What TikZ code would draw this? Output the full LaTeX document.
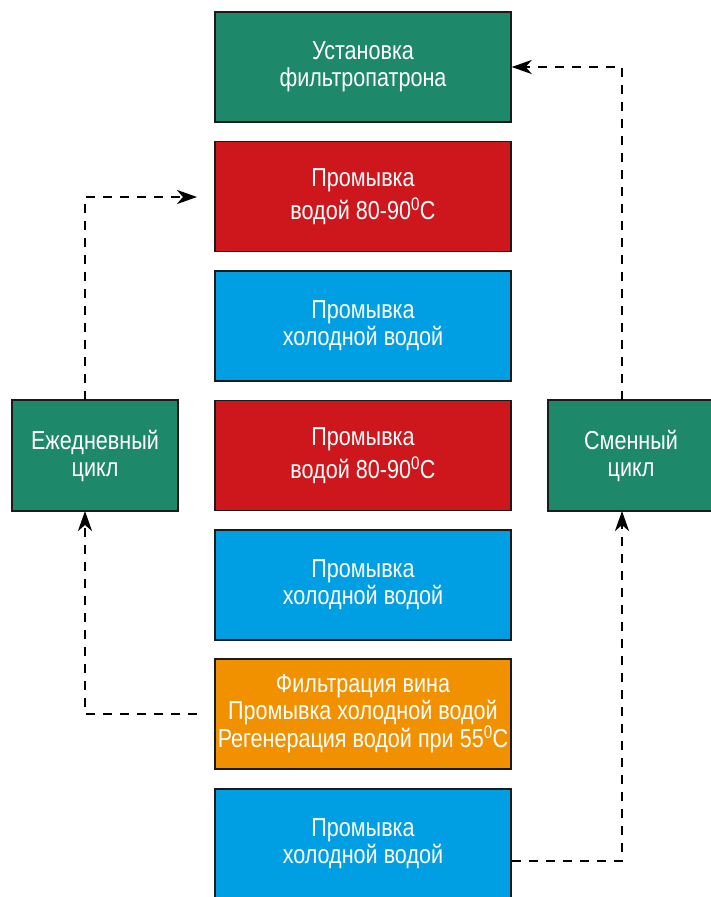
\documentclass[tikz,border=0pt]{standalone}
\usepackage{fontspec}
\setmainfont{Liberation Sans}[FakeStretch=0.83]
\usetikzlibrary{arrows.meta}
\definecolor{cgreen}{HTML}{1E886A}
\definecolor{cred}{HTML}{CE171D}
\definecolor{cblue}{HTML}{009FE3}
\definecolor{corange}{HTML}{F29100}
\definecolor{cedge}{HTML}{1A1A1A}
\tikzset{
  box/.style={draw=cedge, line width=1.4pt, minimum width=296pt, minimum height=110pt,
    inner sep=0pt, text=white, align=center, font=\fontsize{26}{27}\selectfont},
  sidebox/.style={box, minimum width=166pt, minimum height=111pt},
  conn/.style={line width=2.8pt, dash pattern=on 9pt off 8pt},
  tip/.style={-{Stealth[length=20pt,width=14pt,inset=6pt]}}
}
\begin{document}
\begin{tikzpicture}[x=1pt,y=-1pt]
\useasboundingbox (0,0) rectangle (711,897);
\node[box, fill=cgreen] (b1) at (363,67) {Установка\\фильтропатрона};
\node[box, fill=cred] (b2) at (363,196.5) {Промывка\\[5pt]водой 80-90\textsuperscript{0}C};
\node[box, fill=cblue] (b3) at (363,326) {Промывка\\холодной водой};
\node[box, fill=cred] (b4) at (363,455.5) {Промывка\\[5pt]водой 80-90\textsuperscript{0}C};
\node[box, fill=cblue] (b5) at (363,585) {Промывка\\холодной водой};
\node[box, fill=corange] (b6) at (363,714) {Фильтрация вина\\Промывка холодной водой\\Регенерация водой при 55\textsuperscript{0}C};
\node[box, fill=cblue] (b7) at (363,844) {Промывка\\холодной водой};
\node[sidebox, fill=cgreen] (left) at (95,455.5) {Ежедневный\\цикл};
\node[sidebox, fill=cgreen] (right) at (631,455.5) {Сменный\\цикл};
\coordinate (lfrom) at (197,714);
\coordinate (lto) at (197,197);
\draw[conn, tip] (lfrom) -- (85,714) -- (85,511);
\draw[conn, tip] (85,400) -- (85,197) -- (lto);
\draw[conn, tip] (b7.east |- 0,861) -- (622,861) -- (622,511);
\draw[conn, tip] (622,400) -- (622,67) -- (b1.east);
\end{tikzpicture}
\end{document}
